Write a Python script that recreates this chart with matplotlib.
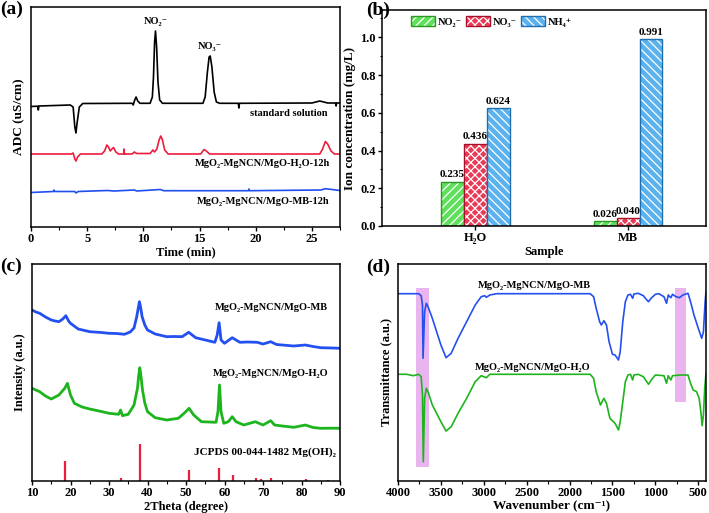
import matplotlib
matplotlib.use('Agg')
import matplotlib.pyplot as plt
from matplotlib.patches import Patch
from matplotlib.legend_handler import HandlerTuple
from matplotlib.ticker import MultipleLocator

plt.rcParams['font.family'] = ['Liberation Serif', 'DejaVu Serif']
plt.rcParams['font.weight'] = 'bold'
plt.rcParams['axes.labelweight'] = 'bold'
plt.rcParams['hatch.linewidth'] = 0.9
plt.rcParams['axes.linewidth'] = 1.1

# ---------------- (a) ion chromatograms ----------------
std_t = [0, 0.6, 0.65, 0.7, 3.5, 3.75, 3.9, 4.0, 4.1, 4.3, 4.6, 9.0, 9.1, 9.2, 9.35,
         9.5, 9.7, 10.6, 10.8, 10.9, 11.0, 11.08, 11.18, 11.3, 11.45, 11.7, 15.3, 15.5,
         15.7, 15.85, 15.95, 16.1, 16.3, 16.5, 16.8, 18.45, 18.5, 18.55, 25.0, 25.7,
         26.4, 27.1, 27.15, 27.2, 27.5]
std_y = [120.5, 120.8, 117, 121, 122, 120, 100, 94, 104, 120, 123.5, 123.7, 122, 126, 130,
         126, 123.7, 123.7, 130, 150, 185, 196, 180, 145, 127, 123.7, 123.7, 130,
         155, 170, 171, 160, 135, 125, 123.7, 123.7, 119, 123.7, 124, 126,
         124, 124, 121, 124, 124]
h2o_t = [0, 3.6, 3.75, 3.9, 4.0, 4.15, 4.4, 6.3, 6.55, 6.75, 6.9, 7.05, 7.2, 7.35, 7.55,
         7.8, 8.25, 8.28, 8.32, 9.0, 9.2, 9.4, 10.6, 10.85, 11.0, 11.2, 11.4, 11.55, 11.7,
         11.9, 12.2, 15.1, 15.4, 15.6, 15.9, 25.7, 25.95, 26.2, 26.4, 26.7, 27.0, 27.5]
h2o_y = [73, 73, 74, 68, 66, 70, 73, 73, 76, 82, 80, 76, 78, 79.5, 75,
         73, 73, 78, 73, 73, 75, 73.5, 73.5, 77, 75, 78, 87, 91, 87,
         77, 73, 73, 77.5, 76, 73, 73, 78, 85.5, 83, 76, 73, 73]
mb_t = [0, 2.0, 2.05, 2.1, 3.9, 4.0, 4.2, 6.8, 7.4, 9.2, 9.4, 11.5, 11.8, 19.35, 19.4,
        19.45, 25.8, 26.2, 26.7, 27.5]
mb_y = [34.5, 35.5, 37, 35.5, 35.5, 34, 35.5, 36.5, 36, 37, 36, 37.5, 36.3, 36.3, 38,
        36.3, 37, 38.3, 37.6, 36.5]

# ---------------- (b) ion concentrations ----------------
samples = ['H₂O', 'MB']
ions = ['NO₂⁻', 'NO₃⁻', 'NH₄⁺']
conc_no2 = [0.235, 0.026]
conc_no3 = [0.436, 0.040]
conc_nh4 = [0.624, 0.991]

# ---------------- (c) XRD ----------------
xrd_mb_x = [10, 11, 12, 13.5, 15, 16, 17, 18, 18.8, 19.5, 20, 22, 25, 28, 30, 32, 34,
            35.5, 36.5, 37.2, 37.6, 37.9, 38.2, 38.6, 39.3, 40, 42, 45, 47, 49, 50.7,
            52.5, 55, 57.5, 58.1, 58.6, 59.1, 60, 62, 64, 66, 68.5, 70, 72, 73.5, 75,
            78, 81, 83, 85, 88, 90]
xrd_mb_y = [171, 169, 167.7, 164, 161, 160, 159.3, 162, 165.3, 160, 157.7, 152, 149.3,
            148.5, 147.7, 147.5, 146.7, 149, 153, 164.3, 173, 179.3, 174, 164.3, 156,
            151, 147, 144.3, 144.5, 144.3, 148.7, 143.3, 141, 138.7, 146, 158.3, 141,
            137.7, 143.3, 138.7, 139, 138.7, 137, 139.3, 136.5, 136, 135, 136, 134.5,
            133.3, 133, 132.7]
xrd_h2o_x = [10, 11, 12, 13.5, 15, 16, 17, 18.5, 19.2, 20, 21, 23, 25, 28, 30, 32.5,
             33, 33.5, 35, 36.5, 37.4, 37.7, 38, 38.3, 38.7, 39.3, 40, 42, 45, 48, 49.5,
             50.8, 52, 54, 57.8, 58.3, 58.7, 59.1, 59.8, 61, 62, 63, 65, 68, 70, 72, 73,
             75, 78, 81, 83, 85, 88, 90]
xrd_h2o_y = [92.7, 91, 89.3, 85, 82, 84, 86, 92.7, 97.7, 86, 77.7, 74, 72, 69.5, 67.7,
             66.7, 71, 65.3, 66.7, 76, 92.7, 105, 113.3, 105, 91, 78, 69.3, 63.3, 61,
             62.7, 67.7, 72.7, 66, 59.3, 58.7, 69.3, 96, 69.3, 57.7, 59.3, 64.3, 59.3,
             56, 59.3, 56, 60.3, 56, 55, 53.7, 56, 53.5, 52.7, 52.8, 52.7]
ref_pos = [18.5, 33.0, 38.0, 50.8, 58.7, 62.1, 68.2, 69.4, 72.0, 81.2, 86.9]
ref_int = [20, 3.3, 37, 11, 12.7, 5.7, 3.3, 1.7, 3.3, 2, 1]

# ---------------- (d) FTIR ----------------
ir_mb_x = [4000, 3760, 3730, 3715, 3708, 3690, 3670, 3650, 3600, 3500, 3440, 3380, 3300,
           3200, 3100, 3030, 2990, 2970, 2930, 2850, 1760, 1720, 1690, 1650, 1630, 1600,
           1570, 1540, 1500, 1470, 1430, 1410, 1380, 1350, 1320, 1290, 1265, 1250, 1200,
           1140, 1100, 1080, 1050, 1000, 960, 900, 870, 850, 820, 800, 760, 720, 680,
           620, 590, 550, 500, 460, 440, 420, 410]
ir_mb_y = [187.3, 187.3, 185.3, 176, 122.7, 169.3, 177.7, 174.3, 162.7, 136, 123.3,
           127.7, 142.7, 159.3, 176, 184.3, 185.3, 183.7, 186, 187.3, 187.3, 184.3,
           172.7, 159.3, 156, 160.3, 156, 139.3, 126.7, 126, 121, 129.3, 159.3, 179.3,
           186, 186.7, 182.7, 187, 187.7, 185.3, 181, 179.3, 182.7, 186.7, 187.3, 184.3,
           177.7, 186, 183.3, 186.7, 184.3, 183.3, 186, 187.7, 179.3, 166, 152.7,
           142.7, 149.3, 179.3, 189.3]
ir_h2o_x = [4000, 3900, 3820, 3760, 3730, 3715, 3705, 3690, 3670, 3650, 3600, 3500, 3440,
            3380, 3300, 3200, 3100, 3030, 2970, 2930, 1760, 1720, 1690, 1640, 1600, 1570,
            1530, 1470, 1430, 1410, 1380, 1350, 1320, 1290, 1265, 1250, 1200, 1140, 1080,
            1040, 1000, 900, 870, 850, 820, 800, 700, 620, 590, 560, 520, 490, 470, 455,
            440, 425, 410]
ir_h2o_y = [106.7, 106.7, 105.3, 106.7, 104.3, 86, 19.3, 82.7, 92.7, 89.3, 76, 59.3, 50,
            54.3, 67.7, 82.7, 99.3, 105.3, 103.3, 106.7, 106.7, 102.7, 89.3, 76, 82.7,
            77.7, 62.7, 57.7, 51, 59.3, 79.3, 99.3, 106, 106.7, 101, 106, 106.7, 104.3,
            96.7, 102, 106, 105.3, 97.7, 105.3, 101, 105.3, 106, 106, 97.7, 91, 89.3,
            82.7, 69.3, 55.3, 66, 92.7, 107.7]

W, H = 709, 513
fig = plt.figure(figsize=(W / 100, H / 100), dpi=100)


def add_ax(l, r, t, b):
    return fig.add_axes([l / W, 1 - b / H, (r - l) / W, (b - t) / H])


ax_a = add_ax(31, 340, 7, 227)
ax_b = add_ax(382, 706, 10, 226)
ax_c = add_ax(32, 340, 264, 481)
ax_d = add_ax(398, 706, 264, 481)

tick_fs = 9
lab_fs = 9
txt_fs = 7.5

# (a)
ax_a.plot(std_t, std_y, color='black', lw=1.2)
ax_a.plot(h2o_t, h2o_y, color='#ee1c3c', lw=1.2)
ax_a.plot(mb_t, mb_y, color='#1f4ff0', lw=1.2)
ax_a.set_xlim(0, 27.5)
ax_a.set_ylim(0, 220)
ax_a.set_yticks([])
ax_a.xaxis.set_major_locator(MultipleLocator(5))
ax_a.xaxis.set_minor_locator(MultipleLocator(2.5))
ax_a.text(11.1, 205, 'NO₂⁻', ha='center', va='center', fontsize=txt_fs)
ax_a.text(15.9, 180, 'NO₃⁻', ha='center', va='center', fontsize=txt_fs)
ax_a.text(26.4, 113, 'standard solution', ha='right', va='center', fontsize=txt_fs)
ax_a.text(26.6, 63, 'MgO₂-MgNCN/MgO-H₂O-12h', ha='right', va='center', fontsize=txt_fs)
ax_a.text(26.6, 25, 'MgO₂-MgNCN/MgO-MB-12h', ha='right', va='center', fontsize=txt_fs)
ax_a.set_xlabel('Time (min)', fontsize=lab_fs, labelpad=1)
ax_a.set_ylabel('ADC (uS/cm)', fontsize=9.5, labelpad=4)

# (b)
x = [0, 1]
bw = 0.15
fills = ['#5fe05a', '#ea3a55', '#5cb2ee']
edges = ['#2a9a22', '#a8102a', '#1f6fb0']
hatches = ['////', 'xxxx', '\\\\\\\\']
handles = []
for k, vals in enumerate([conc_no2, conc_no3, conc_nh4]):
    pos = [xi + (k - 1) * bw for xi in x]
    ax_b.bar(pos, vals, bw, color=fills[k], edgecolor='white', hatch=hatches[k], lw=0)
    ax_b.bar(pos, vals, bw, fill=False, edgecolor=edges[k], lw=1.0)
    for p, v in zip(pos, vals):
        ax_b.text(p, v + 0.012, '%.3f' % v, ha='center', va='bottom', fontsize=8)
    handles.append((Patch(facecolor=fills[k], edgecolor='white', hatch=hatches[k], lw=0),
                    Patch(fill=False, edgecolor=edges[k], lw=1.0)))
ax_b.set_xlim(-0.61, 1.51)
ax_b.set_ylim(0, 1.145)
ax_b.set_xticks(x)
ax_b.set_xticklabels(samples)
ax_b.yaxis.set_major_locator(MultipleLocator(0.2))
ax_b.yaxis.set_minor_locator(MultipleLocator(0.1))
ax_b.yaxis.set_major_formatter(plt.FormatStrFormatter('%.1f'))
ax_b.set_xlabel('Sample', fontsize=lab_fs, labelpad=1)
ax_b.set_ylabel('Ion concentration (mg/L)', fontsize=9.5, labelpad=3)
ax_b.legend(handles, ions, handler_map={tuple: HandlerTuple(ndivide=1, pad=0)},
            loc='upper left', ncol=3, frameon=False, fontsize=7.5,
            handlelength=2.3, handleheight=1.0, columnspacing=0.4, handletextpad=0.25,
            borderaxespad=0, borderpad=0, bbox_to_anchor=(0.09, 0.97))

# (c)
ax_c.plot(xrd_mb_x, xrd_mb_y, color='#2450f0', lw=2.0)
ax_c.plot(xrd_h2o_x, xrd_h2o_y, color='#1eb41e', lw=2.0)
ax_c.vlines(ref_pos, 0, ref_int, color='#e8203c', lw=1.6)
ax_c.set_xlim(10, 90)
ax_c.set_ylim(0, 217)
ax_c.set_yticks([])
ax_c.xaxis.set_major_locator(MultipleLocator(10))
ax_c.xaxis.set_minor_locator(MultipleLocator(5))
ax_c.text(86.9, 174, 'MgO₂-MgNCN/MgO-MB', ha='right', va='center', fontsize=txt_fs)
ax_c.text(86.9, 108, 'MgO₂-MgNCN/MgO-H₂O', ha='right', va='center', fontsize=txt_fs)
ax_c.text(89.0, 29, 'JCPDS 00-044-1482 Mg(OH)₂', ha='right', va='center', fontsize=8)
ax_c.set_xlabel('2Theta (degree)', fontsize=lab_fs, labelpad=1)
ax_c.set_ylabel('Intensity (a.u.)', fontsize=lab_fs, labelpad=4)

# (d)
ax_d.fill_between([3794, 3638], 14.3, 192.7, color='#eab4ee', lw=0)
ax_d.fill_between([772, 643], 79.3, 192.7, color='#eab4ee', lw=0)
ax_d.plot(ir_mb_x, ir_mb_y, color='#2450f0', lw=1.2)
ax_d.plot(ir_h2o_x, ir_h2o_y, color='#1eb41e', lw=1.2)
ax_d.set_xlim(4000, 410)
ax_d.set_ylim(0, 217)
ax_d.set_yticks([])
ax_d.xaxis.set_major_locator(MultipleLocator(500))
ax_d.xaxis.set_minor_locator(MultipleLocator(250))
ax_d.text(2405, 195.3, 'MgO₂-MgNCN/MgO-MB', ha='center', va='center', fontsize=txt_fs)
ax_d.text(2425, 113.7, 'MgO₂-MgNCN/MgO-H₂O', ha='center', va='center', fontsize=txt_fs)
ax_d.set_xlabel('Wavenumber (cm⁻¹)', fontsize=9.5, labelpad=0)
ax_d.set_ylabel('Transmittance (a.u.)', fontsize=lab_fs, labelpad=4)

for ax in [ax_a, ax_b, ax_c, ax_d]:
    ax.tick_params(labelsize=tick_fs, pad=1.5, length=3, width=1)
    ax.tick_params(which='minor', length=1.8, width=0.8)

# panel letters
for lbl, px, py in [('(a)', 0, 9), ('(b)', 366, 10), ('(c)', 0, 266), ('(d)', 366, 267)]:
    fig.text(px / W, 1 - py / H, lbl, fontsize=14, fontweight='bold', va='center', ha='left')

plt.savefig('out.png', dpi=100)
